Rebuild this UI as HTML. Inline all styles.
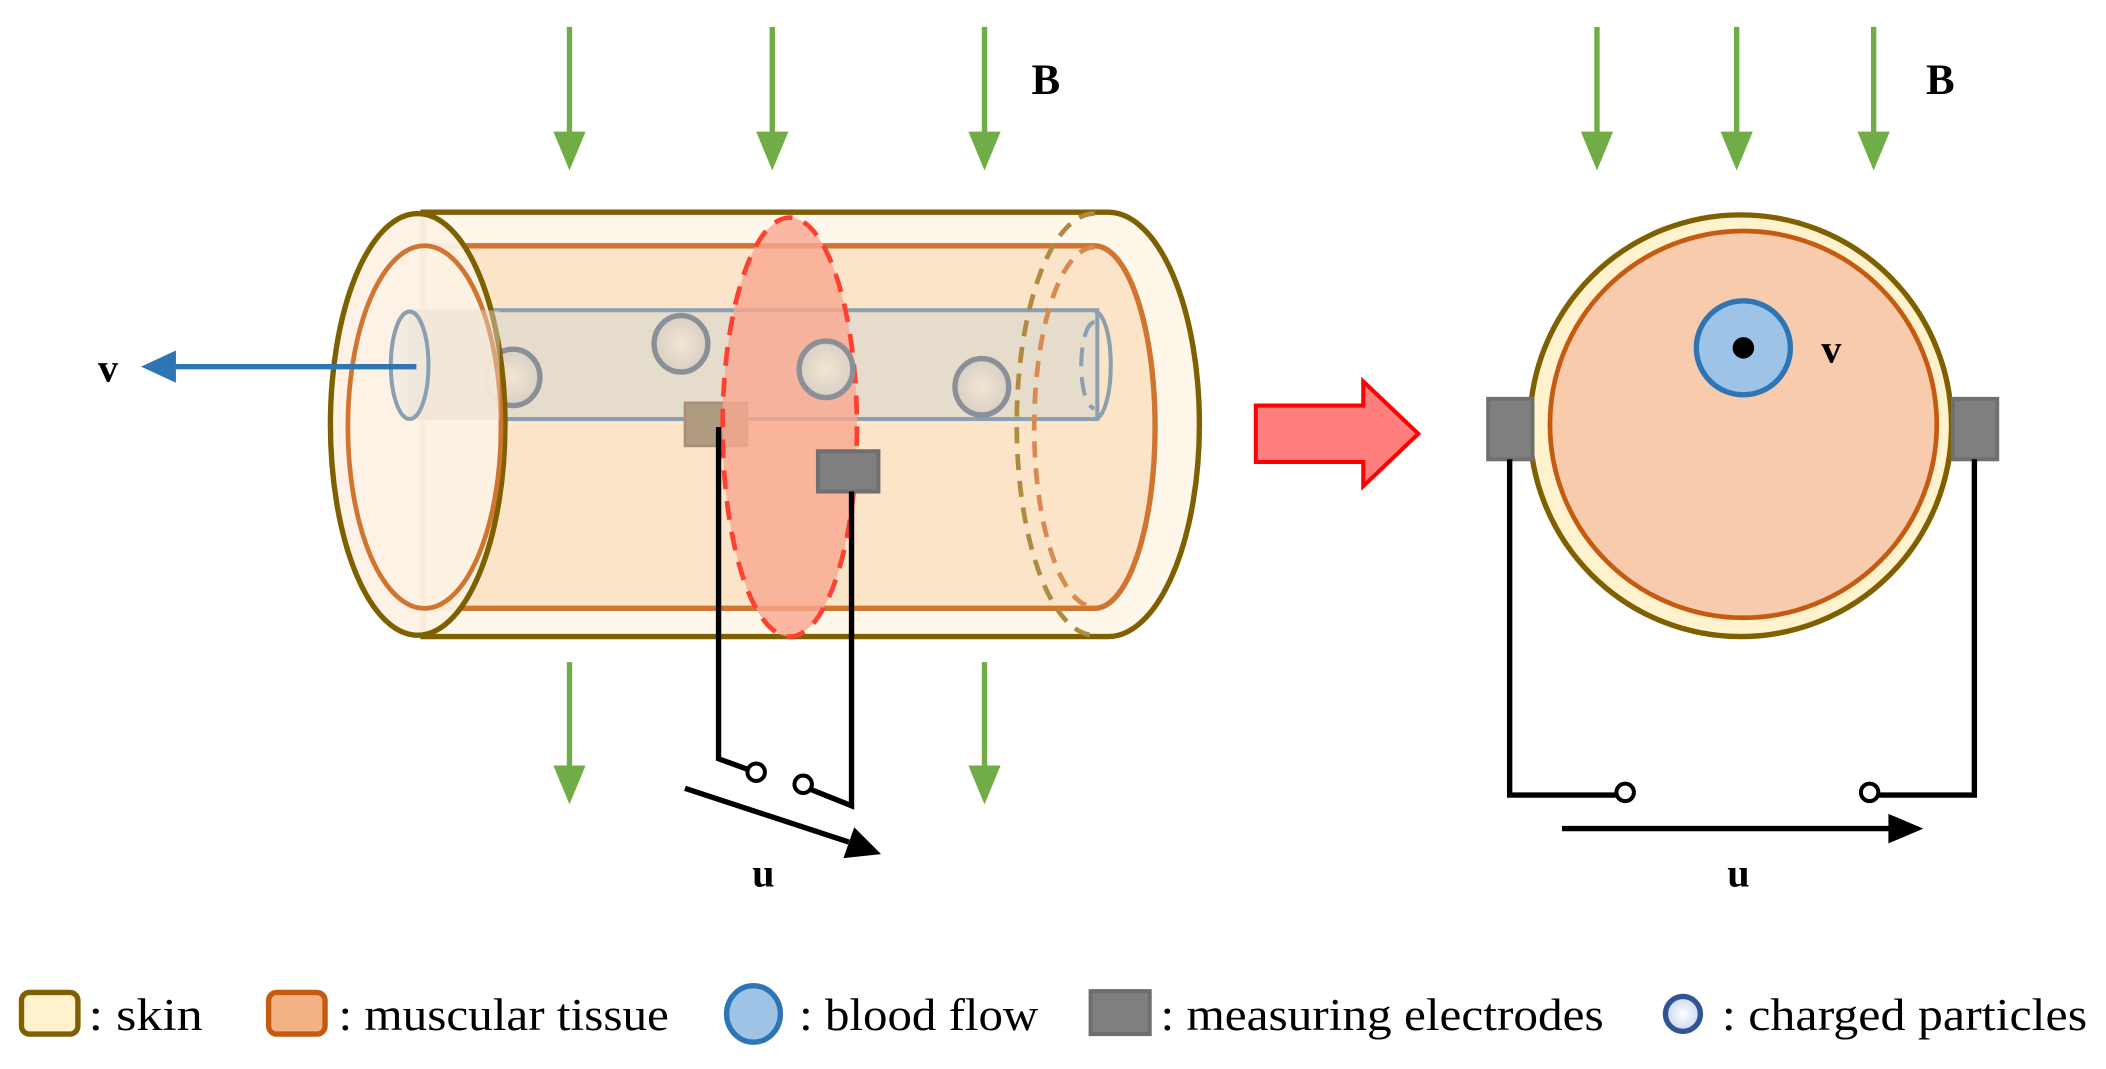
<!DOCTYPE html>
<html><head><meta charset="utf-8"><style>
html,body{margin:0;padding:0;background:#fff;}
svg{display:block;}
text{font-family:"Liberation Serif",serif;}
</style></head><body>
<svg width="2106" height="1069" viewBox="0 0 1568 796" preserveAspectRatio="none" xmlns="http://www.w3.org/2000/svg">
<defs>
<radialGradient id="pg" cx="50%" cy="50%" r="50%"><stop offset="0" stop-color="#f3e6d2"/><stop offset="1" stop-color="#d8cfc4"/></radialGradient>
<radialGradient id="cp" cx="50%" cy="50%" r="50%"><stop offset="0" stop-color="#fff"/><stop offset="1" stop-color="#c7d6ee"/></radialGradient>
</defs>
<g stroke="#70ad47" stroke-width="4" fill="#70ad47">
<line x1="424" y1="20" x2="424" y2="100"/><polygon points="412,98 436,98 424,127" stroke="none"/>
<line x1="575" y1="20" x2="575" y2="100"/><polygon points="563,98 587,98 575,127" stroke="none"/>
<line x1="733" y1="20" x2="733" y2="100"/><polygon points="721,98 745,98 733,127" stroke="none"/>
<line x1="424" y1="493" x2="424" y2="572"/><polygon points="412,570 436,570 424,599" stroke="none"/>
<line x1="733" y1="493" x2="733" y2="572"/><polygon points="721,570 745,570 733,599" stroke="none"/>
<line x1="1189" y1="20" x2="1189" y2="100"/><polygon points="1177,98 1201,98 1189,127" stroke="none"/>
<line x1="1293" y1="20" x2="1293" y2="100"/><polygon points="1281,98 1305,98 1293,127" stroke="none"/>
<line x1="1395" y1="20" x2="1395" y2="100"/><polygon points="1383,98 1407,98 1395,127" stroke="none"/>
</g>
<text x="768" y="70" font-size="32" font-weight="bold">B</text>
<text x="1434" y="70" font-size="32" font-weight="bold">B</text>

<path d="M315,158 L825,158 A68,158 0 0 1 825,474 L315,474 Z" fill="#fff7e9" stroke="#7f6000" stroke-width="4"/>
<path d="M315,183 L815,183 A45,135 0 0 1 815,453 L315,453 Z" fill="#fce4c8" stroke="#d07430" stroke-width="4"/>
<rect x="305" y="231" width="512" height="81" fill="#e6dccb" stroke="#8aa0b0" stroke-width="3"/>
<path d="M815,232 A12,40 0 0 1 815,312" fill="none" stroke="#8aa0b0" stroke-width="3"/>
<path d="M815,240 A10,32 0 0 0 815,304" fill="none" stroke="#8aa0b0" stroke-width="3" stroke-dasharray="14,8"/>
<g stroke="#8b8f98" stroke-width="4" fill="url(#pg)">
<ellipse cx="382" cy="281" rx="20" ry="21"/>
<ellipse cx="507" cy="256" rx="20" ry="21"/>
<ellipse cx="731" cy="288" rx="20" ry="21"/>
</g>
<path d="M815,159 A58,157 0 0 0 815,473" fill="none" stroke="#b08a40" stroke-width="3.5" stroke-dasharray="12,8"/>
<path d="M815,184 A45,134 0 0 0 815,452" fill="none" stroke="#d88a50" stroke-width="3.5" stroke-dasharray="12,8"/>
<rect x="510" y="300" width="46" height="32" fill="#b09a80" stroke="#a89078" stroke-width="2"/>
<ellipse cx="588" cy="318" rx="50" ry="156" fill="#f9a890" fill-opacity="0.8" stroke="#ff4030" stroke-width="3.5" stroke-dasharray="14,9"/>
<ellipse cx="615" cy="275" rx="20" ry="21" stroke="#8b8f98" stroke-width="4" fill="url(#pg)"/>
<ellipse cx="311" cy="316" rx="65" ry="157" fill="#fdf1e4" fill-opacity="0.95" stroke="#7f6000" stroke-width="4"/>
<ellipse cx="316" cy="318" rx="57" ry="135" fill="none" stroke="#d07430" stroke-width="3.5"/>
<path d="M305,231 L372,231 L372,312 L305,312" fill="#e6dccb" fill-opacity="0.45" stroke="none"/>
<ellipse cx="305" cy="272" rx="14" ry="40" fill="#ece6e0" fill-opacity="0.5" stroke="#8aa0b0" stroke-width="3"/>
<rect x="609" y="336" width="45" height="30" fill="#7f7f7f" stroke="#707070" stroke-width="3"/>
<g stroke="#000" stroke-width="4" fill="none">
<polyline points="535,318 535,565 557,573"/>
<polyline points="634,366 634,600 604,588"/>
</g>
<circle cx="563" cy="575" r="6.5" fill="#fff" stroke="#000" stroke-width="3"/>
<circle cx="598" cy="584" r="6.5" fill="#fff" stroke="#000" stroke-width="3"/>
<line x1="510" y1="587" x2="632" y2="627" stroke="#000" stroke-width="4"/>
<polygon points="656,636 628,639 636,616" fill="#000"/>
<text x="560" y="660" font-size="30" font-weight="bold">u</text>
<line x1="310" y1="273" x2="128" y2="273" stroke="#2e75b6" stroke-width="4"/>
<polygon points="105,273 131,261 131,285" fill="#2e75b6"/>
<text x="73" y="284" font-size="30" font-weight="bold">v</text>
<polygon points="935,302 1015,302 1015,284 1056,323 1015,362 1015,344 935,344" fill="#ff7f7f" stroke="#ff0000" stroke-width="3"/>
<circle cx="1296" cy="317" r="157" fill="#fff2cc" stroke="#7f6000" stroke-width="4"/>
<circle cx="1298" cy="316" r="144" fill="#f8cbad" stroke="#c55a11" stroke-width="3.5"/>
<circle cx="1298" cy="259" r="35" fill="#9dc3e6" stroke="#2e75b6" stroke-width="4"/>
<circle cx="1298" cy="259" r="8" fill="#000"/>
<text x="1356" y="270" font-size="30" font-weight="bold">v</text>
<rect x="1108" y="297" width="33" height="45" fill="#7f7f7f" stroke="#707070" stroke-width="3"/>
<rect x="1454" y="297" width="33" height="45" fill="#7f7f7f" stroke="#707070" stroke-width="3"/>
<g stroke="#000" stroke-width="4" fill="none">
<polyline points="1124,342 1124,592 1203,592"/>
<polyline points="1470,342 1470,592 1399,592"/>
</g>
<circle cx="1210" cy="590" r="6.5" fill="#fff" stroke="#000" stroke-width="3"/>
<circle cx="1392" cy="590" r="6.5" fill="#fff" stroke="#000" stroke-width="3"/>
<line x1="1163" y1="617" x2="1408" y2="617" stroke="#000" stroke-width="4"/>
<polygon points="1432,617 1406,606 1406,628" fill="#000"/>
<text x="1286" y="660" font-size="30" font-weight="bold">u</text>
<rect x="16" y="739" width="42" height="31" rx="6" fill="#fff2cc" stroke="#7f6000" stroke-width="4"/>
<text x="66" y="767" font-size="34" textLength="85" lengthAdjust="spacingAndGlyphs">: skin</text>
<rect x="200" y="739" width="42" height="31" rx="6" fill="#f4b183" stroke="#c55a11" stroke-width="4"/>
<text x="252" y="767" font-size="34" textLength="246" lengthAdjust="spacingAndGlyphs">: muscular tissue</text>
<ellipse cx="561" cy="755" rx="20" ry="21" fill="#9dc3e6" stroke="#2e75b6" stroke-width="4"/>
<text x="595" y="767" font-size="34" textLength="178" lengthAdjust="spacingAndGlyphs">: blood flow</text>
<rect x="812" y="738" width="44" height="32" fill="#7f7f7f" stroke="#716d6c" stroke-width="3"/>
<text x="864" y="767" font-size="34" textLength="330" lengthAdjust="spacingAndGlyphs">: measuring electrodes</text>
<circle cx="1253" cy="755" r="13" fill="url(#cp)" stroke="#2f5597" stroke-width="4"/>
<text x="1282" y="767" font-size="34" textLength="272" lengthAdjust="spacingAndGlyphs">: charged particles</text>
</svg>
</body></html>
